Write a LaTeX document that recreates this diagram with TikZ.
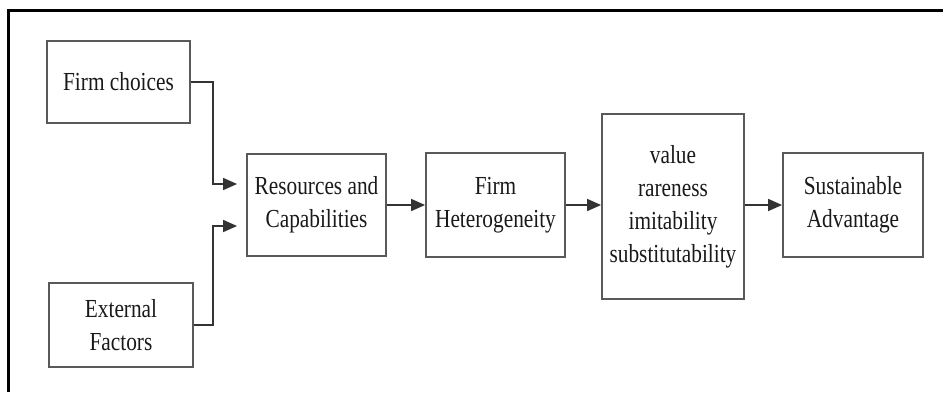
\documentclass[tikz,border=0pt]{standalone}
\usepackage{fontspec}
\setmainfont[FakeStretch=0.82]{Liberation Serif}
\usetikzlibrary{arrows.meta,calc}
\begin{document}
\begin{tikzpicture}[x=1pt,y=-1pt,
  box/.style={draw=black!65,line width=1.8pt,rectangle,align=center,inner sep=0pt,
    font=\fontsize{26}{33}\selectfont,text=black!90},
  arr/.style={draw=black!80,line width=1.6pt,-{Triangle[length=14pt,width=12pt]}},
  frame/.style={line width=3pt,draw=black}]
\useasboundingbox (0,0) rectangle (943,392);
% outer frame (left and top edges)
\draw[frame] (8.5,392) -- (8.5,10.5) -- (943,10.5);
% boxes
\node[box,minimum width=143pt,minimum height=82pt] (fc) at (118.5,82) {Firm choices};
\node[box,minimum width=144pt,minimum height=84pt] (ef) at (121,325) {External\\Factors};
\node[box,minimum width=139pt,minimum height=102pt] (rc) at (316.5,205) {Resources and\\Capabilities};
\node[box,minimum width=139pt,minimum height=104pt] (fh) at (495.5,205) {Firm\\Heterogeneity};
\node[box,minimum width=142pt,minimum height=185pt] (vr) at (673,206.5) {value\\rareness\\imitability\\substitutability};
\node[box,minimum width=140pt,minimum height=104pt] (sa) at (853,205) {Sustainable\\Advantage};
% inputs joining the first box
\coordinate (j1) at (213,184);
\coordinate (j2) at (213,226);
\draw[arr,shorten >=9pt] (fc.east) -| (j1) -- (rc.west |- j1);
\draw[arr,shorten >=9pt] (ef.east) -| (j2) -- (rc.west |- j2);
% main chain
\draw[arr] (rc) -- (fh);
\draw[arr] (fh) -- (fh -| vr.west);
\draw[arr] (vr.east |- sa) -- (sa);
\end{tikzpicture}
\end{document}
